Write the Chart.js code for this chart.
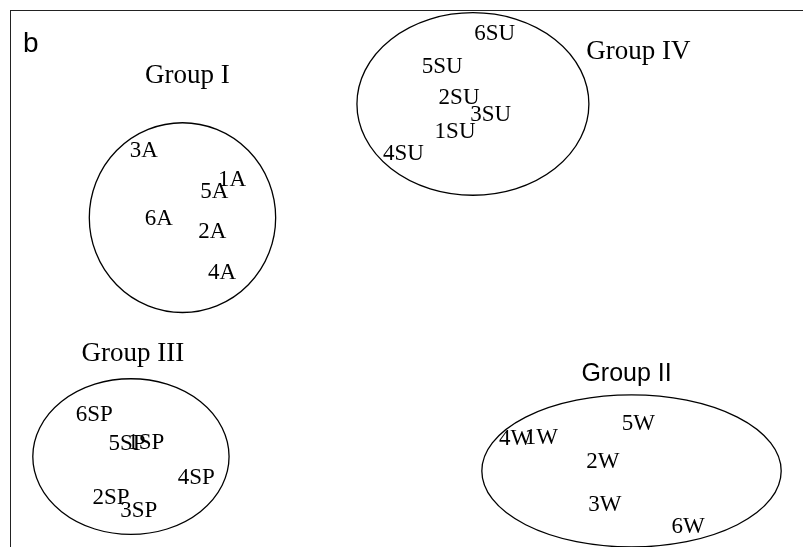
<!DOCTYPE html>
<html>
<head>
<meta charset="utf-8">
<script src="https://cdn.jsdelivr.net/npm/chart.js@4/dist/chart.umd.min.js"></script>
<style>
  html, body { margin: 0; padding: 0; background: #fff; }
  #grafico { display: block; }
</style>
</head>
<body>
<canvas id="grafico" width="803" height="547"></canvas>
<script>
// muestras por grupo (coordenadas en el plano de ordenación)
const labelsA = ['1A', '2A', '3A', '4A', '5A', '6A'];
const xA = [-1.76, -1.96, -2.65, -1.86, -1.94, -2.50];
const yA = [1.10, 0.52, 1.43, 0.06, 0.97, 0.67];

const labelsW = ['1W', '2W', '3W', '4W', '5W', '6W'];
const xW = [1.36, 1.98, 2.00, 1.10, 2.34, 2.84];
const yW = [-1.78, -2.05, -2.53, -1.79, -1.63, -2.78];

const labelsSP = ['1SP', '2SP', '3SP', '4SP', '5SP', '6SP'];
const xSP = [-2.63, -2.98, -2.70, -2.12, -2.82, -3.15];
const ySP = [-1.84, -2.45, -2.60, -2.23, -1.85, -1.53];

const labelsSU = ['1SU', '2SU', '3SU', '4SU', '5SU', '6SU'];
const xSU = [0.49, 0.53, 0.85, -0.03, 0.36, 0.89];
const ySU = [1.64, 2.02, 1.83, 1.39, 2.36, 2.73];

// elipses de los grupos I, II, III, IV
const groupNames = ['Group I', 'Group II', 'Group III', 'Group IV'];
const ellipseCx = [-2.26, 2.27, -2.78, 0.67];
const ellipseCy = [0.68, -2.15, -1.99, 1.95];
const ellipseRx = [0.94, 1.51, 0.99, 1.17];
const ellipseRy = [1.06, 0.85, 0.87, 1.02];
const groupLabelX = [-2.21, 2.22, -2.76, 2.34];
const groupLabelY = [2.26, -1.07, -0.84, 2.53];

function puntos(xs, ys) {
  return xs.map((x, i) => ({ x: x, y: ys[i] }));
}

const serie = (nombre, xs, ys, etiquetas) => ({
  label: nombre,
  data: puntos(xs, ys),
  etiquetas: etiquetas,
  pointRadius: 0,
  pointHoverRadius: 0,
  showLine: false
});

const pluginDibujo = {
  id: 'dibujo',
  afterDatasetsDraw(chart) {
    const ctx = chart.ctx;
    const sx = chart.scales.x;
    const sy = chart.scales.y;
    ctx.save();

    // elipses
    ctx.strokeStyle = '#000';
    ctx.lineWidth = 1.3;
    ellipseCx.forEach((cx, i) => {
      const px = sx.getPixelForValue(cx);
      const py = sy.getPixelForValue(ellipseCy[i]);
      const rx = Math.abs(sx.getPixelForValue(cx + ellipseRx[i]) - px);
      const ry = Math.abs(sy.getPixelForValue(ellipseCy[i] + ellipseRy[i]) - py);
      ctx.beginPath();
      ctx.ellipse(px, py, rx, ry, 0, 0, Math.PI * 2);
      ctx.stroke();
    });

    // etiquetas de muestras
    ctx.fillStyle = '#000';
    ctx.textAlign = 'center';
    ctx.textBaseline = 'middle';
    ctx.font = '23px "Liberation Serif", serif';
    chart.data.datasets.forEach((ds, d) => {
      const meta = chart.getDatasetMeta(d);
      meta.data.forEach((p, i) => {
        ctx.fillText(ds.etiquetas[i], p.x, p.y);
      });
    });

    // nombres de grupo (Group II va en sans)
    groupNames.forEach((g, i) => {
      ctx.font = i === 1 ? '25px "Liberation Sans", Arial, sans-serif' : '27px "Liberation Serif", serif';
      ctx.fillText(g, sx.getPixelForValue(groupLabelX[i]), sy.getPixelForValue(groupLabelY[i]));
    });

    // letra del panel
    ctx.font = '28px "Liberation Sans", Arial, sans-serif';
    ctx.textAlign = 'left';
    ctx.textBaseline = 'alphabetic';
    ctx.fillText('b', chart.chartArea.left + 13, chart.chartArea.top + 42);
    ctx.restore();
  }
};

const config = {
  type: 'scatter',
  data: {
    datasets: [
      serie('Group I', xA, yA, labelsA),
      serie('Group II', xW, yW, labelsW),
      serie('Group III', xSP, ySP, labelsSP),
      serie('Group IV', xSU, ySU, labelsSU)
    ]
  },
  options: {
    responsive: false,
    animation: false,
    layout: { padding: { left: 2, top: 2, right: 0, bottom: 0 } },
    plugins: {
      legend: { display: false },
      tooltip: { enabled: false }
    },
    scales: {
      x: {
        type: 'linear',
        position: 'top',
        min: -4,
        max: 4,
        ticks: { display: false },
        grid: { display: false },
        border: { display: true, color: '#222', width: 1 }
      },
      y: {
        type: 'linear',
        position: 'left',
        min: -3,
        max: 3,
        ticks: { display: false },
        grid: { display: false },
        border: { display: true, color: '#222', width: 1 }
      }
    }
  },
  plugins: [pluginDibujo]
};

new Chart(document.getElementById('grafico').getContext('2d'), config);
</script>
</body>
</html>
